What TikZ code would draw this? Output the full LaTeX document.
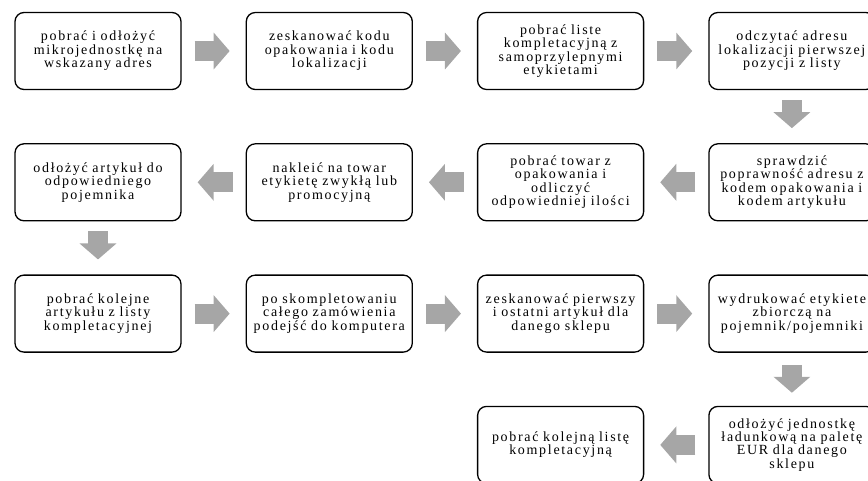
\documentclass[tikz,border=0pt]{standalone}
\usepackage{fontspec}
\setmainfont{Liberation Serif}[LetterSpace=12]
\usetikzlibrary{positioning, arrows.meta}
\tikzset{
	stepbox/.style = {draw=black, line width=1.3pt, rounded corners=9pt, fill=white,
		text width=162pt, minimum height=77pt, align=center, inner sep=2pt,
		font=\fontsize{14}{13.4}\selectfont},
	flow/.style = {draw=arrowgray, line width=20pt,
		-{Triangle[length=16pt, width=36pt]}, shorten <=13pt, shorten >=16pt},
}
\definecolor{arrowgray}{HTML}{A6A6A6}

\begin{document}
\begin{tikzpicture}[x=1pt, y=-1pt, node distance=53pt and 64pt]
			\useasboundingbox (0,0) rectangle (868,480);
			% row 1
			\node[stepbox] (s1) at (98,51) {pobrać i odłożyć\\mikrojednostkę na\\wskazany adres};
			\node[stepbox, right=of s1] (s2) {zeskanować kodu\\opakowania i kodu\\lokalizacji};
			\node[stepbox, right=of s2] (s3) {pobrać liste\\kompletacyjną z\\samoprzylepnymi\\etykietami};
			\node[stepbox, right=of s3] (s4) {odczytać adresu\\lokalizacji pierwszej\\pozycji z listy};
			% row 2
			\node[stepbox, below=of s4] (s5) {sprawdzić\\poprawność adresu z\\kodem opakowania i\\kodem artykułu};
			\node[stepbox, left=of s5] (s6) {pobrać towar z\\opakowania i\\odliczyć\\odpowiedniej ilości};
			\node[stepbox, left=of s6] (s7) {nakleić na towar\\etykietę zwykłą lub\\promocyjną};
			\node[stepbox, left=of s7] (s8) {odłożyć artykuł do\\odpowiedniego\\pojemnika};
			% row 3
			\node[stepbox, below=of s8] (s9) {pobrać kolejne\\artykułu z listy\\kompletacyjnej};
			\node[stepbox, right=of s9] (s10) {po skompletowaniu\\całego zamówienia\\podejść do komputera};
			\node[stepbox, right=of s10] (s11) {zeskanować pierwszy\\i ostatni artykuł dla\\danego sklepu};
			\node[stepbox, right=of s11] (s12) {wydrukować etykiete\\zbiorczą na\\pojemnik/pojemniki};
			% row 4
			\node[stepbox, below=of s12] (s13) {odłożyć jednostkę\\ładunkową na paletę\\EUR dla danego\\sklepu};
			\node[stepbox, left=of s13] (s14) {pobrać kolejną listę\\kompletacyjną};
			% arrows
			\draw[flow] (s1) -- (s2);
			\draw[flow] (s2) -- (s3);
			\draw[flow] (s3) -- (s4);
			\draw[flow, shorten <=10pt, shorten >=15pt] (s4) -- (s5);
			\draw[flow] (s5) -- (s6);
			\draw[flow] (s6) -- (s7);
			\draw[flow] (s7) -- (s8);
			\draw[flow, shorten <=10pt, shorten >=15pt] (s8) -- (s9);
			\draw[flow] (s9) -- (s10);
			\draw[flow] (s10) -- (s11);
			\draw[flow] (s11) -- (s12);
			\draw[flow, shorten <=12pt, shorten >=13pt] (s12) -- (s13);
			\draw[flow] (s13) -- (s14);
		\end{tikzpicture}
\end{document}
